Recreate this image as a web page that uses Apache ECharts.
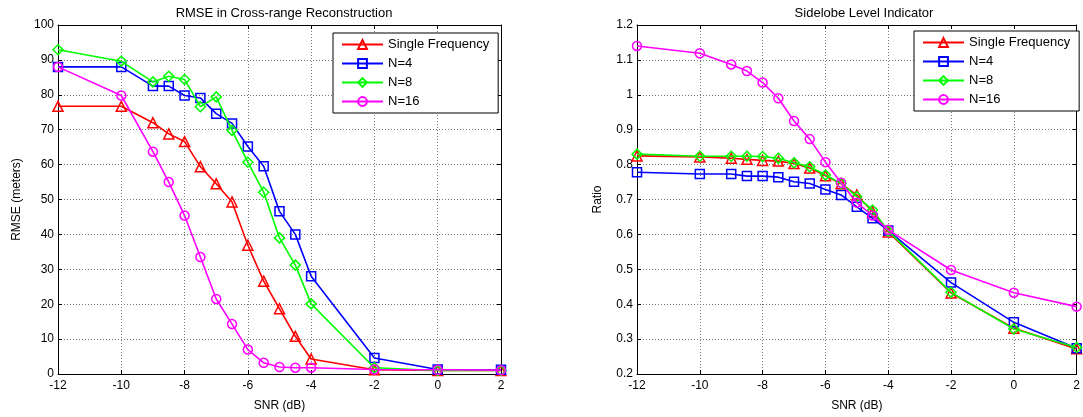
<!DOCTYPE html>
<html>
<head>
<meta charset="utf-8">
<script src="https://cdn.jsdelivr.net/npm/echarts@6/dist/echarts.min.js"></script>
<style>
  html, body { margin: 0; padding: 0; background: #fff; }
  #chart { width: 1083px; height: 417px; }
</style>
</head>
<body>
<div id="chart"></div>
<script>
// SNR sample points (dB)
const snr = [-12, -10, -9, -8.5, -8, -7.5, -7, -6.5, -6, -5.5, -5, -4.5, -4, -2, 0, 2];

const seriesNames = ['Single Frequency', 'N=4', 'N=8', 'N=16'];

// RMSE in cross-range reconstruction (meters)
const rmseSingle = [76.7, 76.7, 72.0, 68.8, 66.6, 59.4, 54.5, 49.3, 36.9, 26.6, 18.7, 10.8, 4.3, 1.2, 1.0, 1.0];
const rmseN4     = [88.0, 88.0, 82.5, 82.5, 79.8, 79.1, 74.6, 71.8, 65.2, 59.5, 46.6, 40.0, 28.0, 4.6, 1.3, 1.2];
const rmseN8     = [92.9, 89.6, 83.7, 85.3, 84.4, 76.6, 79.4, 69.8, 60.7, 52.1, 39.0, 31.2, 20.1, 1.8, 1.0, 1.0];
const rmseN16    = [88.0, 79.8, 63.7, 55.0, 45.4, 33.5, 21.5, 14.3, 7.0, 3.2, 2.0, 1.8, 1.8, 1.3, 1.2, 1.1];

// Sidelobe level ratio
const ratioSingle = [0.825, 0.822, 0.818, 0.815, 0.812, 0.810, 0.803, 0.790, 0.768, 0.745, 0.713, 0.665, 0.607, 0.432, 0.331, 0.272];
const ratioN4     = [0.778, 0.773, 0.773, 0.767, 0.767, 0.764, 0.751, 0.746, 0.729, 0.713, 0.679, 0.646, 0.611, 0.462, 0.348, 0.274];
const ratioN8     = [0.830, 0.824, 0.824, 0.824, 0.823, 0.818, 0.805, 0.794, 0.770, 0.746, 0.708, 0.670, 0.610, 0.434, 0.329, 0.276];
const ratioN16    = [1.140, 1.119, 1.087, 1.068, 1.035, 0.990, 0.925, 0.873, 0.807, 0.748, 0.691, 0.654, 0.613, 0.498, 0.433, 0.393];

const colors = ['#ff0000', '#0000ff', '#00ff00', '#ff00ff'];
const symbols = ['triangle', 'rect', 'diamond', 'circle'];
const symbolSizes = [10, 9, 10, 9];

const FONT = "'Liberation Sans', Arial, Helvetica, sans-serif";

const chart = echarts.init(document.getElementById('chart'), null, { renderer: 'canvas' });

const gridLine = { show: true, lineStyle: { color: '#7a7a7a', width: 1, type: [1, 2] } };
const frameLine = { show: true, onZero: false, lineStyle: { color: '#000', width: 1 } };
const tick = { show: true, inside: true, length: 4, lineStyle: { color: '#000' } };
const tickLabel = { color: '#000', fontSize: 12, fontFamily: FONT };
const nameText = { color: '#000', fontSize: 12, fontFamily: FONT };

function xPair(gridIndex) {
  return [
    {
      type: 'value', gridIndex, position: 'bottom', min: -12, max: 2, interval: 2,
      axisLine: frameLine, axisTick: tick, splitLine: gridLine,
      axisLabel: Object.assign({ margin: 6 }, tickLabel),
      name: 'SNR (dB)', nameLocation: 'middle', nameGap: 26, nameTextStyle: nameText
    },
    {
      type: 'value', gridIndex, position: 'top', min: -12, max: 2, interval: 2,
      axisLine: frameLine, axisTick: tick, splitLine: { show: false }, axisLabel: { show: false }
    }
  ];
}

function yPair(gridIndex, min, max, interval, name, gap) {
  return [
    {
      type: 'value', gridIndex, position: 'left', min, max, interval,
      axisLine: frameLine, axisTick: tick, splitLine: gridLine,
      axisLabel: Object.assign({ margin: 4 }, tickLabel),
      name, nameLocation: 'middle', nameGap: gap, nameRotate: 90, nameTextStyle: nameText
    },
    {
      type: 'value', gridIndex, position: 'right', min, max, interval,
      axisLine: frameLine, axisTick: tick, splitLine: { show: false }, axisLabel: { show: false }
    }
  ];
}

function makeSeries(values, i, xIdx, yIdx) {
  return {
    name: seriesNames[i],
    type: 'line',
    xAxisIndex: xIdx,
    yAxisIndex: yIdx,
    data: snr.map((x, k) => [x, values[k]]),
    symbol: symbols[i],
    symbolSize: symbolSizes[i],
    showAllSymbol: true,
    lineStyle: { color: colors[i], width: 1.6 },
    itemStyle: { color: 'rgba(255,255,255,0)', borderColor: colors[i], borderWidth: 1.5 },
    emphasis: { disabled: true },
    z: 2 + i
  };
}

function legendAt(left, top) {
  return {
    orient: 'vertical', left, top,
    data: seriesNames,
    itemWidth: 41, itemHeight: 11, itemGap: 6,
    padding: [5, 9, 5, 8],
    backgroundColor: '#fff',
    borderColor: '#000', borderWidth: 1, borderRadius: 0,
    selectedMode: false,
    textStyle: { color: '#000', fontSize: 13, fontFamily: FONT, padding: [0, 0, 0, 0] }
  };
}

chart.setOption({
  animation: false,
  backgroundColor: '#fff',
  title: [
    { text: 'RMSE in Cross-range Reconstruction', left: 279, top: 2, textAlign: 'center',
      textStyle: { fontSize: 13, fontWeight: 'normal', color: '#000', fontFamily: FONT } },
    { text: 'Sidelobe Level Indicator', left: 859, top: 2, textAlign: 'center',
      textStyle: { fontSize: 13, fontWeight: 'normal', color: '#000', fontFamily: FONT } }
  ],
  grid: [
    { left: 58, top: 25, width: 443, height: 349 },
    { left: 637, top: 25, width: 444, height: 349 }
  ],
  xAxis: [...xPair(0), ...xPair(1)],
  yAxis: [
    ...yPair(0, 0, 100, 10, 'RMSE (meters)', 35),
    ...yPair(1, 0.2, 1.2, 0.1, 'Ratio', 33)
  ],
  legend: [legendAt(333, 33), legendAt(914, 31)],
  series: [
    makeSeries(rmseSingle, 0, 0, 0),
    makeSeries(rmseN4, 1, 0, 0),
    makeSeries(rmseN8, 2, 0, 0),
    makeSeries(rmseN16, 3, 0, 0),
    makeSeries(ratioSingle, 0, 2, 2),
    makeSeries(ratioN4, 1, 2, 2),
    makeSeries(ratioN8, 2, 2, 2),
    makeSeries(ratioN16, 3, 2, 2)
  ]
});
</script>
</body>
</html>
